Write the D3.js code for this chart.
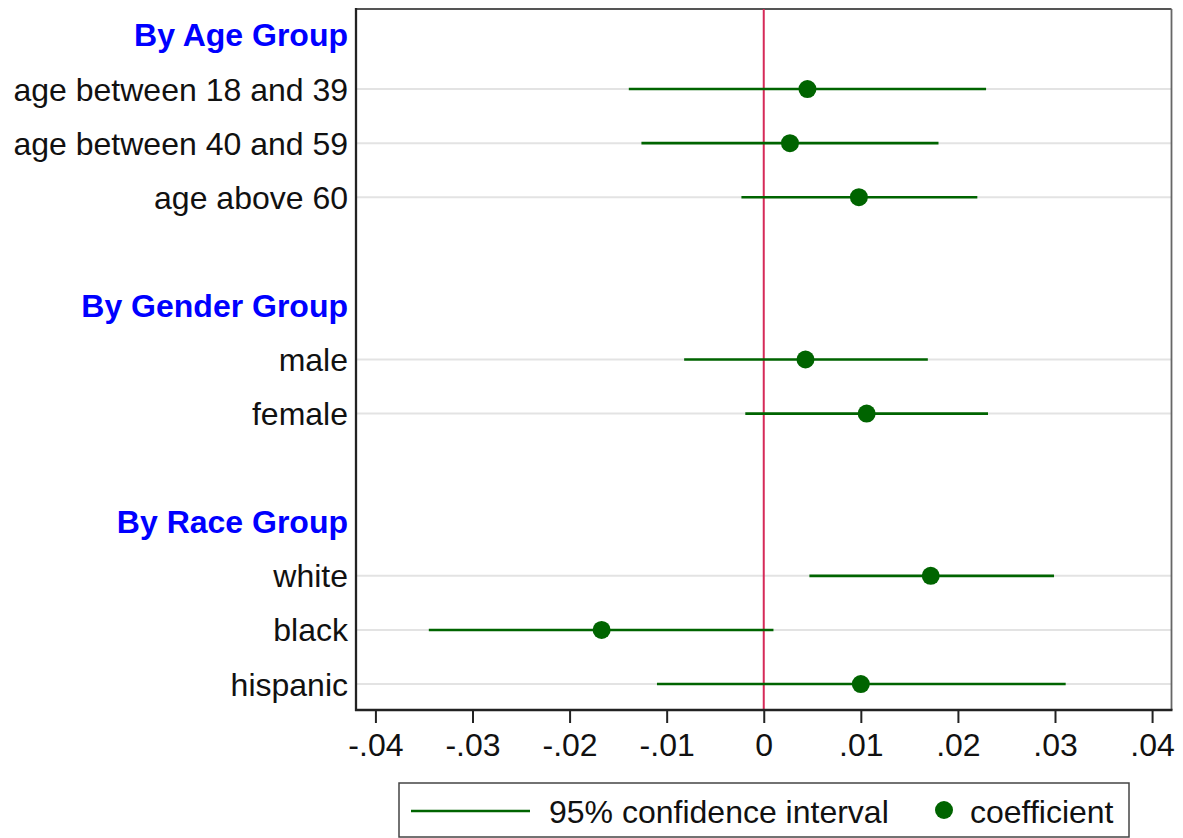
<!DOCTYPE html>
<html>
<head>
<meta charset="utf-8">
<script src="https://cdn.jsdelivr.net/npm/d3@7"></script>
<style>
  html, body { margin: 0; padding: 0; background: #fff; }
  svg { display: block; font-family: "Liberation Sans", Arial, sans-serif; }
</style>
</head>
<body>
<svg id="chart" width="1183" height="838"></svg>
<script>
// Subgroup estimates: point coefficient with 95% confidence interval
const groups = ["By Age Group", "By Gender Group", "By Race Group"];
const categories = ["age between 18 and 39", "age between 40 and 59", "age above 60",
                    "male", "female", "white", "black", "hispanic"];
const categoryGroup = [0, 0, 0, 1, 1, 2, 2, 2];
const coefficient = [0.0045, 0.0027, 0.0098, 0.0043, 0.0106, 0.0172, -0.0167, 0.0100];
const ciLower    = [-0.0139, -0.0126, -0.0023, -0.0082, -0.0019, 0.0047, -0.0345, -0.0110];
const ciUpper    = [0.0229, 0.0180, 0.0220, 0.0169, 0.0231, 0.0299, 0.0010, 0.0311];
const xTicks = [-0.04, -0.03, -0.02, -0.01, 0, 0.01, 0.02, 0.03, 0.04];
const legendLabels = ["95% confidence interval", "coefficient"];

const GREEN = "#006400";
const REFLINE = "#d62a58";
const FONT = 32;

const svg = d3.select("#chart");
const plot = { left: 356, right: 1171.5, top: 9, bottom: 710 };

// Row slots: a header for each group, its categories, and a blank row between groups
const slots = [];
groups.forEach((g, gi) => {
  if (gi > 0) slots.push({ key: "gap" + gi, type: "gap" });
  slots.push({ key: "hdr" + gi, type: "header", label: g });
  categories.forEach((c, i) => {
    if (categoryGroup[i] === gi) slots.push({ key: "row" + i, type: "row", label: c, i });
  });
});

const x = d3.scaleLinear().domain([-0.042, 0.042]).range([plot.left, plot.right]);
const y = d3.scalePoint().domain(slots.map(s => s.key))
  .range([plot.top, plot.bottom]).padding(0.48);

const rows = slots.filter(s => s.type === "row");

// Horizontal grid lines at each estimate row
svg.append("g").selectAll("line").data(rows).join("line")
  .attr("x1", plot.left).attr("x2", plot.right)
  .attr("y1", d => y(d.key)).attr("y2", d => y(d.key))
  .attr("stroke", "#e3e3e3").attr("stroke-width", 2);

// Plot frame (top and right sides lighter)
svg.append("line").attr("x1", plot.left).attr("x2", plot.right)
  .attr("y1", plot.top).attr("y2", plot.top)
  .attr("stroke", "#555").attr("stroke-width", 1.8);
svg.append("line").attr("x1", plot.right).attr("x2", plot.right)
  .attr("y1", plot.top).attr("y2", plot.bottom)
  .attr("stroke", "#666").attr("stroke-width", 1.8);

// Reference line at zero
svg.append("line")
  .attr("x1", x(0)).attr("x2", x(0))
  .attr("y1", plot.top).attr("y2", plot.bottom)
  .attr("stroke", REFLINE).attr("stroke-width", 2);

// Confidence intervals
svg.append("g").selectAll("line").data(rows).join("line")
  .attr("x1", d => x(ciLower[d.i])).attr("x2", d => x(ciUpper[d.i]))
  .attr("y1", d => y(d.key)).attr("y2", d => y(d.key))
  .attr("stroke", GREEN).attr("stroke-width", 2.6);

// Coefficients
svg.append("g").selectAll("circle").data(rows).join("circle")
  .attr("cx", d => x(coefficient[d.i])).attr("cy", d => y(d.key))
  .attr("r", 9).attr("fill", GREEN);

// Left axis line and row labels
svg.append("line").attr("x1", plot.left).attr("x2", plot.left)
  .attr("y1", plot.top - 1).attr("y2", plot.bottom + 1)
  .attr("stroke", "#222").attr("stroke-width", 2.3);

svg.append("g").selectAll("text").data(slots.filter(s => s.type !== "gap")).join("text")
  .attr("x", plot.left - 8)
  .attr("y", d => y(d.key))
  .attr("dy", "0.36em")
  .attr("text-anchor", "end")
  .attr("font-size", FONT)
  .attr("font-weight", d => d.type === "header" ? "bold" : "normal")
  .attr("fill", d => d.type === "header" ? "#0000ff" : "#111")
  .text(d => d.label);

// Bottom axis
const fmt = v => v === 0 ? "0" : (v < 0 ? "-" : "") + d3.format(".2f")(Math.abs(v)).replace(/^0/, "");
const xAxis = d3.axisBottom(x).tickValues(xTicks).tickFormat(fmt)
  .tickSize(13).tickSizeOuter(0).tickPadding(10);
const gx = svg.append("g").attr("transform", `translate(0,${plot.bottom})`).call(xAxis);
gx.select(".domain").attr("stroke", "#222").attr("stroke-width", 2.3)
  .attr("d", `M${plot.left - 1},0H${plot.right + 1}`);
gx.selectAll(".tick line").attr("stroke", "#222").attr("stroke-width", 2);
gx.selectAll(".tick text").attr("fill", "#111").attr("font-size", FONT)
  .attr("font-family", "\"Liberation Sans\", Arial, sans-serif");

// Legend
const lg = svg.append("g");
lg.append("rect").attr("x", 399).attr("y", 783).attr("width", 730).attr("height", 54)
  .attr("fill", "#fff").attr("stroke", "#444").attr("stroke-width", 1.5);
lg.append("line").attr("x1", 411).attr("x2", 530).attr("y1", 811).attr("y2", 811)
  .attr("stroke", GREEN).attr("stroke-width", 2.6);
lg.append("text").attr("x", 549).attr("y", 811).attr("dy", "0.36em")
  .attr("font-size", FONT).attr("fill", "#111").text(legendLabels[0]);
lg.append("circle").attr("cx", 944).attr("cy", 810).attr("r", 9).attr("fill", GREEN);
lg.append("text").attr("x", 970).attr("y", 811).attr("dy", "0.36em")
  .attr("font-size", FONT).attr("fill", "#111").text(legendLabels[1]);
</script>
</body>
</html>
